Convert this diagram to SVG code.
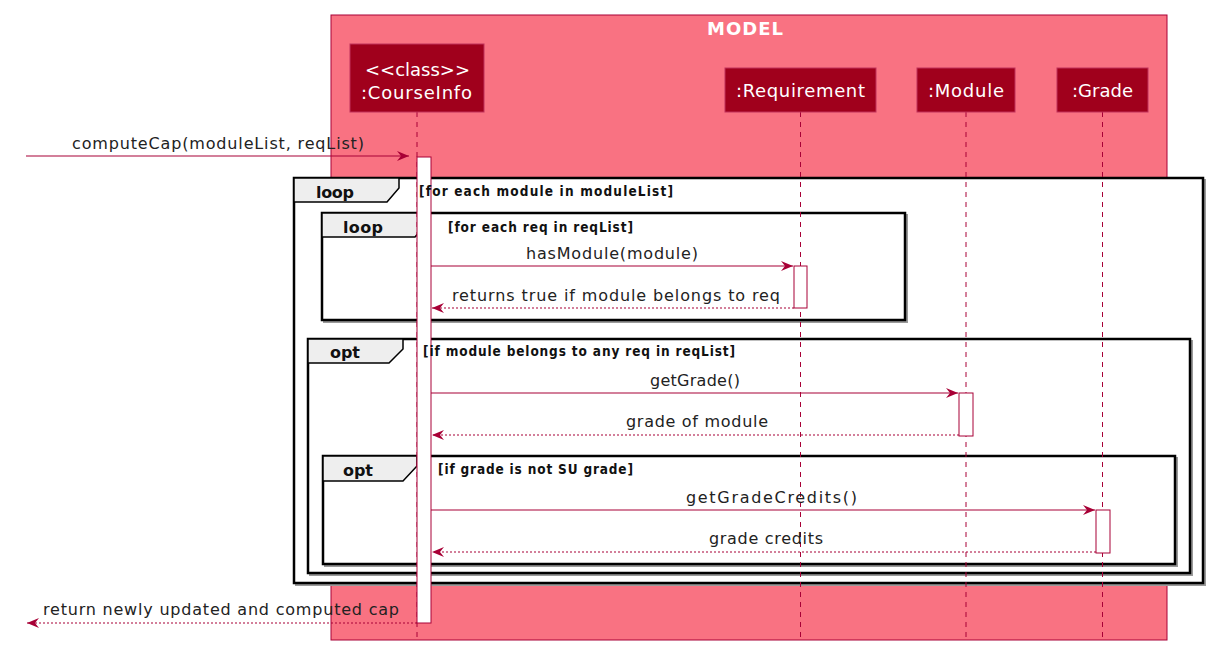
<svg xmlns="http://www.w3.org/2000/svg" width="1212" height="648" viewBox="0 0 1212 648">
<style>
.msg{font-family:"DejaVu Sans","Liberation Sans",sans-serif;font-size:16px;fill:#222}
.guard{font-family:"DejaVu Sans Condensed","DejaVu Sans",sans-serif;font-size:13.5px;font-weight:bold;fill:#111}
.tabt{font-family:"DejaVu Sans","Liberation Sans",sans-serif;font-size:16px;font-weight:bold;fill:#111}
.ptxt{font-family:"DejaVu Sans","Liberation Sans",sans-serif;font-size:18px;fill:#ffffff}
.part{fill:#A0001C;stroke:#C0305A;stroke-width:1}
.life{stroke:#A80036;stroke-width:1;stroke-dasharray:5,5;fill:none}
.act{fill:#ffffff;stroke:#A80036;stroke-width:1}
.frame{fill:#ffffff;stroke:#000;stroke-width:2.5}
.shadow{fill:none;stroke:#9a9a9a;stroke-width:2}
.tab{fill:#EEEEEE;stroke:#000;stroke-width:1.5}
.call{stroke:#A80036;stroke-width:1.2;fill:none}
.ret{stroke:#A80036;stroke-width:1.2;stroke-dasharray:2,2;fill:none}
</style>
<defs>
<marker id="ah" markerWidth="14" markerHeight="12" refX="12" refY="5" orient="auto" markerUnits="userSpaceOnUse">
<path d="M0,0 L12,5 L0,10 L4,5 Z" fill="#A80036"/>
</marker>
</defs>

<g id="model-box">
<rect x="331" y="15" width="836" height="625" fill="#F97282" stroke="#A80036" stroke-width="1"/>
<text x="745" y="35" text-anchor="middle" font-family="DejaVu Sans,Liberation Sans,sans-serif" font-size="18" font-weight="bold" fill="#ffffff" textLength="76">MODEL</text>
</g>

<g id="frame-loop-outer">
<rect x="296" y="180" width="909" height="405" class="shadow"/>
<rect x="294" y="178" width="909" height="405" class="frame"/>
<path d="M294,178 L399,178 L399,188 L387,202 L294,202 Z" class="tab"/>
</g>

<g id="frame-loop-inner">
<rect x="324" y="215" width="583" height="107" class="shadow"/>
<rect x="322" y="213" width="583" height="107" class="frame"/>
<path d="M322,213 L427,213 L427,223 L415,237 L322,237 Z" class="tab"/>
</g>

<g id="frame-opt-outer">
<rect x="310" y="341" width="882" height="234" class="shadow"/>
<rect x="308" y="339" width="882" height="234" class="frame"/>
<path d="M308,339 L403,339 L403,349 L389,363 L308,363 Z" class="tab"/>
</g>

<g id="frame-opt-inner">
<rect x="325" y="458" width="852" height="108" class="shadow"/>
<rect x="323" y="456" width="852" height="108" class="frame"/>
<path d="M323,456 L417,456 L417,466 L403,481 L323,481 Z" class="tab"/>
</g>

<g id="lifelines">
<line x1="417" y1="112" x2="417" y2="640" class="life"/>
<line x1="800.5" y1="112" x2="800.5" y2="640" class="life"/>
<line x1="966" y1="112" x2="966" y2="640" class="life"/>
<line x1="1102.5" y1="112" x2="1102.5" y2="640" class="life"/>
</g>

<g id="courseinfo">
<rect x="350" y="44" width="134" height="68" class="part"/>
<text x="365" y="76" class="ptxt" textLength="105">&lt;&lt;class&gt;&gt;</text>
<text x="361" y="99" class="ptxt" textLength="111">:CourseInfo</text>
<rect x="417" y="157" width="14" height="466" class="act"/>
</g>

<g id="requirement">
<rect x="725" y="68" width="151" height="44" class="part"/>
<text x="736" y="97" class="ptxt" textLength="129">:Requirement</text>
<rect x="794" y="266" width="13" height="42" class="act"/>
</g>

<g id="module">
<rect x="917" y="68" width="98" height="44" class="part"/>
<text x="928" y="97" class="ptxt" textLength="76">:Module</text>
<rect x="959" y="393" width="14" height="43" class="act"/>
</g>

<g id="grade">
<rect x="1057" y="68" width="91" height="44" class="part"/>
<text x="1072" y="97" class="ptxt" textLength="61">:Grade</text>
<rect x="1096" y="510" width="14" height="43" class="act"/>
</g>

<g id="frame-labels">
<text x="316" y="198" class="tabt" textLength="38">loop</text>
<text x="419" y="196" class="guard" textLength="254">[for each module in moduleList]</text>
<text x="343" y="233" class="tabt" textLength="40">loop</text>
<text x="448" y="232" class="guard" textLength="185">[for each req in reqList]</text>
<text x="330" y="358" class="tabt" textLength="30">opt</text>
<text x="423" y="356" class="guard" textLength="312">[if module belongs to any req in reqList]</text>
<text x="343" y="476" class="tabt" textLength="30">opt</text>
<text x="438" y="474" class="guard" textLength="195">[if grade is not SU grade]</text>
</g>

<g id="connectors">
<line x1="26" y1="156" x2="409" y2="156" class="call" marker-end="url(#ah)"/>
<text x="72" y="149" class="msg" textLength="292">computeCap(moduleList, reqList)</text>

<line x1="431" y1="266" x2="793" y2="266" class="call" marker-end="url(#ah)"/>
<text x="526" y="259" class="msg" textLength="172">hasModule(module)</text>

<line x1="794" y1="308" x2="432" y2="308" class="ret" marker-end="url(#ah)"/>
<text x="452" y="301" class="msg" textLength="328">returns true if module belongs to req</text>

<line x1="431" y1="393" x2="958" y2="393" class="call" marker-end="url(#ah)"/>
<text x="650" y="386" class="msg" textLength="90">getGrade()</text>

<line x1="959" y1="435" x2="432" y2="435" class="ret" marker-end="url(#ah)"/>
<text x="626" y="427" class="msg" textLength="142">grade of module</text>

<line x1="431" y1="510" x2="1095" y2="510" class="call" marker-end="url(#ah)"/>
<text x="686" y="503" class="msg" textLength="171">getGradeCredits()</text>

<line x1="1096" y1="552" x2="432" y2="552" class="ret" marker-end="url(#ah)"/>
<text x="709" y="544" class="msg" textLength="114">grade credits</text>

<line x1="417" y1="623" x2="27" y2="623" class="ret" marker-end="url(#ah)"/>
<text x="43" y="615" class="msg" textLength="356">return newly updated and computed cap</text>
</g>
</svg>
